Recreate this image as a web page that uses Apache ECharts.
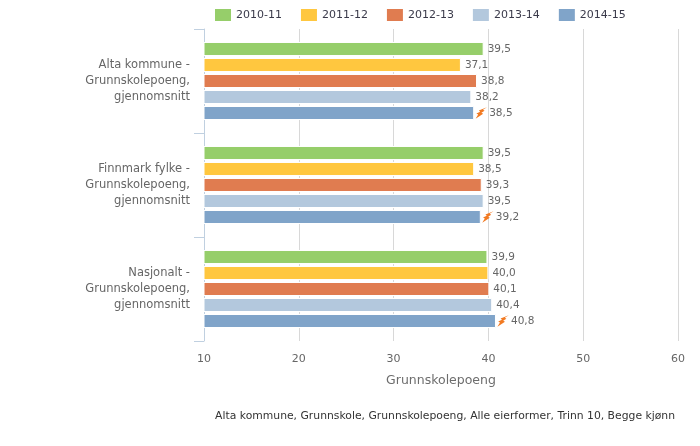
<!DOCTYPE html>
<html><head><meta charset="utf-8">
<style>html,body{margin:0;padding:0;background:#fff}#c{width:700px;height:446px}</style>
<script src="https://cdn.jsdelivr.net/npm/echarts@6/dist/echarts.min.js"></script>
</head><body><div id="c"></div>
<script>
const categories = ["Alta kommune -\nGrunnskolepoeng,\ngjennomsnitt","Finnmark fylke -\nGrunnskolepoeng,\ngjennomsnitt","Nasjonalt -\nGrunnskolepoeng,\ngjennomsnitt"];
const s201011 = [39.5,39.5,39.9];
const s201112 = [37.1,38.5,40.0];
const s201213 = [38.8,39.3,40.1];
const s201314 = [38.2,39.5,40.4];
const s201415 = [38.5,39.2,40.8];
const seriesNames = ["2010-11","2011-12","2012-13","2013-14","2014-15"];
const seriesValues = [s201011,s201112,s201213,s201314,s201415];
const colors = ["#96ce6a","#ffc73f","#e07c50","#b3c8dd","#80a4c9"];
const footer = "Alta kommune, Grunnskole, Grunnskolepoeng, Alle eierformer, Trinn 10, Begge kjønn";
const FONT = "DejaVu Sans";
const bolt = 'data:image/svg+xml;utf8,' + encodeURIComponent('<svg xmlns="http://www.w3.org/2000/svg" width="12" height="12" viewBox="0 0 12 12"><path d="M11.8 0.2 L3.6 3.6 L5 4.8 L1.2 6.6 L3 7.6 L0.4 11.8 L8 6.8 L6.2 5.8 L9.4 3.8 L7.8 2.8 Z" fill="#f27a22"/></svg>');
const fmt = v => v.toFixed(1).replace('.', ',');
const chart = echarts.init(document.getElementById('c'), null, {renderer:'canvas'});
chart.setOption({
  animation:false,
  textStyle:{fontFamily:FONT},
  title:{text:footer,right:20,top:406,textStyle:{fontFamily:FONT,fontSize:10.8,fontWeight:'normal',color:'#333'}},
  legend:{left:215,top:9,padding:0,itemWidth:16,itemHeight:12,itemGap:19,data:seriesNames,
    icon:'rect',itemStyle:{borderWidth:0},textStyle:{fontFamily:FONT,fontSize:11,color:'#3a3a4a'}},
  grid:{left:204,right:22,top:29,height:312,containLabel:false},
  xAxis:{type:'value',min:10,max:60,interval:10,
    name:'Grunnskolepoeng',nameLocation:'middle',nameGap:33,
    nameTextStyle:{fontFamily:FONT,fontSize:12.5,color:'#6d6d6d'},
    axisLine:{show:false},axisTick:{show:false},
    axisLabel:{color:'#666',fontSize:11,fontFamily:FONT,margin:13},
    splitLine:{show:true,lineStyle:{color:'#d8d8d8',width:1}}},
  yAxis:{type:'category',inverse:true,data:categories,
    axisLine:{show:true,lineStyle:{color:'#c0d0e0',width:1}},
    axisTick:{show:true,length:10,alignWithLabel:false,lineStyle:{color:'#c0d0e0'}},
    axisLabel:{color:'#666',fontSize:11.5,fontFamily:FONT,align:'right',margin:14,lineHeight:16,padding:[3,0,0,0]}},
  series:seriesValues.map((vals,i)=>({
    name:seriesNames[i],type:'bar',data:vals,barWidth:14,barGap:'14.3%',
    itemStyle:{color:colors[i],borderColor:'#fff',borderWidth:1},
    label:{show:true,position:'right',distance:i===4?1:4,color:'#666',fontSize:10.5,fontFamily:FONT,
      formatter:i===4?(p=>'{b|}{v|'+fmt(p.value)+'}'):(p=>fmt(p.value)),
      rich:i===4?{b:{width:12,height:12,backgroundColor:{image:bolt}},v:{color:'#666',fontSize:10.5,fontFamily:FONT,padding:[0,0,0,2]}}:undefined}
  }))
});
</script></body></html>
